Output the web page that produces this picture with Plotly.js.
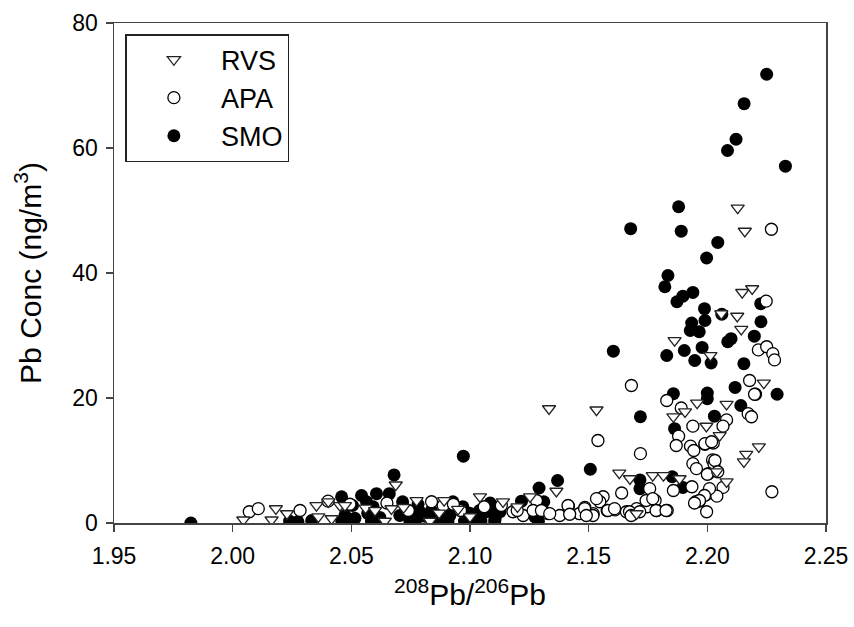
<!DOCTYPE html>
<html>
<head>
<meta charset="utf-8">
<script src="https://cdn.plot.ly/plotly-3.0.1.min.js"></script>
<style>html,body{margin:0;padding:0;background:#fff;}#chart{width:854px;height:627px;}</style>
</head>
<body>
<div id="chart"></div>
<script>
// ---- data ----
const rvsX = [2.2128,2.2158,2.2147,2.2189,2.2126,2.2059,2.2143,2.1862,2.2013,2.2238,2.1957,2.2081,2.1533,2.1333,2.1857,2.1906,2.1996,2.2052,2.2217,2.2164,2.2154,2.2040,2.1629,2.1674,2.1770,2.1815,2.1883,2.2081,2.1364,2.1702,
  2.0045,2.0164,2.0182,2.0229,2.0353,2.0403,2.0361,2.0417,2.0452,2.0473,2.0560,2.0641,2.0687,2.0600,2.0669,2.0720,2.0775,2.0831,2.0870,2.0891,2.0950,2.1042,2.1139,2.1000,2.1200,2.1253];
const rvsY = [50.4,46.7,36.9,37.5,33.1,33.5,31.0,29.2,26.8,22.4,19.2,19.0,18.1,18.3,17.0,17.8,15.5,14.0,12.2,11.0,9.8,8.2,8.0,7.1,7.6,7.6,7.1,6.6,5.1,1.5,
  0.5,0.5,2.3,1.5,2.8,3.4,1.0,0.7,2.8,2.8,2.4,0.3,6.1,2.0,2.3,2.5,3.6,0.3,1.6,3.6,2.2,4.2,3.4,1.0,2.6,4.2];

const apaX = [2.2270,2.2248,2.2215,2.2250,2.2276,2.2283,2.1680,2.2178,2.2203,2.1829,2.2172,2.2186,2.1890,2.2081,2.2066,2.1939,2.1879,2.1869,2.2025,2.1990,2.1929,2.1943,2.1539,2.1718,2.2022,2.2028,2.1939,2.1954,2.2005,2.2066,
  2.1935,2.1857,2.1757,2.1639,2.2272,2.1997,2.2040,2.1952,2.1966,2.1997,2.1561,2.1547,2.1415,2.1484,2.1519,2.1461,2.1578,2.1611,2.1674,2.1702,2.1747,2.1787,2.1831,2.1742,2.1780,2.1181,2.1224,2.1280,2.1266,2.1329,
  2.1378,2.1413,2.1462,2.1483,2.1518,2.1533,2.1581,2.1609,2.1659,2.0070,2.0108,2.0284,2.0838,2.0887,2.1132,2.1301,2.1336,2.1420,2.1490,2.1990,2.2018,2.2032,2.2000,2.2044,2.2009,2.1988,2.1967,2.1946,2.1199,2.1770,
  2.1672,2.1679,2.1715,2.0402,2.0494,2.0650,2.0740,2.0960,2.1060,2.0930,2.2199,2.1784,2.1826];
const apaY = [47.0,35.5,27.7,28.2,27.1,26.1,22.0,22.8,20.6,19.6,17.5,17.0,18.4,16.5,15.5,15.5,13.9,12.4,12.8,12.6,12.3,11.6,13.2,11.1,10.1,9.5,9.5,8.7,7.9,5.7,
  5.8,5.2,5.5,4.8,5.0,4.6,4.3,3.4,3.5,1.8,4.2,3.4,2.7,2.5,1.5,1.5,2.0,2.1,1.5,2.3,2.6,2.0,2.0,3.6,3.6,1.8,1.2,3.6,2.0,1.5,
  1.2,2.8,1.5,2.3,1.2,3.9,2.0,2.3,1.8,1.8,2.3,2.0,3.4,2.8,2.8,2.0,1.5,1.4,1.2,12.7,13.0,10.0,7.8,8.2,5.5,4.4,3.6,3.2,2.0,3.9,
  1.8,1.2,1.8,3.5,3.0,3.2,2.0,2.0,2.6,3.0,20.6,2.0,2.0];

const smoX = [2.2250,2.2155,2.2121,2.2085,2.2329,2.1879,2.1677,2.1890,2.2044,2.1997,2.1834,2.1821,2.1939,2.1897,2.1872,2.2225,2.1988,2.2061,2.1934,2.1990,2.1928,2.1966,2.2226,2.2198,2.2100,2.2086,2.1604,2.1903,2.1978,2.1829,
  2.1947,2.2016,2.2154,2.2294,2.2117,2.1857,2.2000,2.2000,2.2141,2.1718,2.2030,2.1862,2.1507,2.1716,2.1716,2.1852,2.1897,2.1369,2.1291,2.1217,2.1311,2.1273,2.0972,2.0680,2.1085,2.1099,2.1071,2.1127,2.1106,2.0459,
  2.0543,2.0606,2.0660,2.0505,2.0564,2.0592,2.0716,2.0781,2.0788,2.0837,2.0928,2.0970,2.1040,2.0473,2.0515,2.0569,2.0620,2.0704,2.0746,2.0809,2.0873,2.0915,2.0999,2.1020,2.0240,2.0275,2.0333,2.0460,2.0494,2.0585,
  2.0747,2.0770,2.0850,2.0907,2.0977,2.1046,2.1104,2.1288,1.9824];
const smoY = [71.8,67.1,61.4,59.6,57.1,50.6,47.1,46.7,44.9,42.4,39.6,37.8,36.9,36.3,35.4,35.1,34.3,33.4,32.0,32.4,30.8,30.6,32.2,29.9,29.5,29.0,27.5,27.6,28.1,26.8,
  26.0,25.6,25.5,20.6,21.7,20.7,20.8,19.9,18.8,17.0,17.1,15.1,8.6,6.9,5.5,7.4,5.7,6.8,5.6,3.5,3.4,1.0,10.7,7.7,3.2,2.3,1.8,1.8,0.7,4.2,
  4.4,4.7,4.7,2.8,3.4,2.6,3.4,3.0,1.8,2.0,3.4,2.6,2.0,1.2,0.75,1.55,0.9,1.2,0.75,1.1,0.75,1.2,1.55,0.75,0.3,0.2,0.4,0.3,0.3,0.3,
  0.3,0.3,0.3,0.3,0.3,0.3,0.3,0.3,0.0];

const xTicks = [1.95,2.00,2.05,2.10,2.15,2.20,2.25];
const yTicks = [0,20,40,60,80];

const FONT = 'Liberation Sans, Arial, sans-serif';
const AX = '#444';

const traces = [
  {name:'SMO', x:smoX, y:smoY, type:'scatter', mode:'markers', legendrank:3,
   marker:{symbol:'circle', size:13, color:'#000', line:{color:'#000', width:0}}},
  {name:'APA', x:apaX, y:apaY, type:'scatter', mode:'markers', legendrank:2,
   marker:{symbol:'circle', size:12, color:'#fff', line:{color:'#000', width:1.3}}},
  {name:'RVS', x:rvsX, y:rvsY, type:'scatter', mode:'markers', legendrank:1,
   marker:{symbol:'triangle-down', size:11.5, color:'#fff', line:{color:'#222', width:1.3}}}
];

const layout = {
  width:854, height:627,
  margin:{l:114, r:28, t:23, b:104},
  paper_bgcolor:'#fff', plot_bgcolor:'#fff',
  font:{family:FONT, color:'#000'},
  showlegend:true,
  legend:{x:0.016, y:0.978, xanchor:'left', yanchor:'top', bgcolor:'#fff',
    bordercolor:'#222', borderwidth:1.5, font:{family:FONT, size:27, color:'#000'},
    itemwidth:84, tracegroupgap:0},
  xaxis:{range:[1.95,2.25], tickvals:xTicks, ticktext:xTicks.map(v=>v.toFixed(2)),
    showgrid:false, zeroline:false, showline:true, mirror:true, linecolor:AX, linewidth:1.5,
    ticks:'outside', ticklen:7, tickwidth:1.5, tickcolor:AX, ticklabelstandoff:5,
    tickfont:{family:FONT, size:23, color:'#000'},
    title:{text:'<sup>208</sup>Pb/<sup>206</sup>Pb', font:{family:FONT, size:30, color:'#000'}, standoff:16}},
  yaxis:{range:[0,80], tickvals:yTicks, showgrid:false, zeroline:false, showline:true, mirror:true,
    linecolor:AX, linewidth:1.5, ticks:'outside', ticklen:7, tickwidth:1.5, tickcolor:AX, ticklabelstandoff:3,
    tickfont:{family:FONT, size:23, color:'#000'},
    title:{text:'Pb Conc (ng/m<sup>3</sup>)', font:{family:FONT, size:30, color:'#000'}, standoff:22}}
};

Plotly.newPlot('chart', traces, layout, {displayModeBar:false, staticPlot:true});
</script>
</body>
</html>
